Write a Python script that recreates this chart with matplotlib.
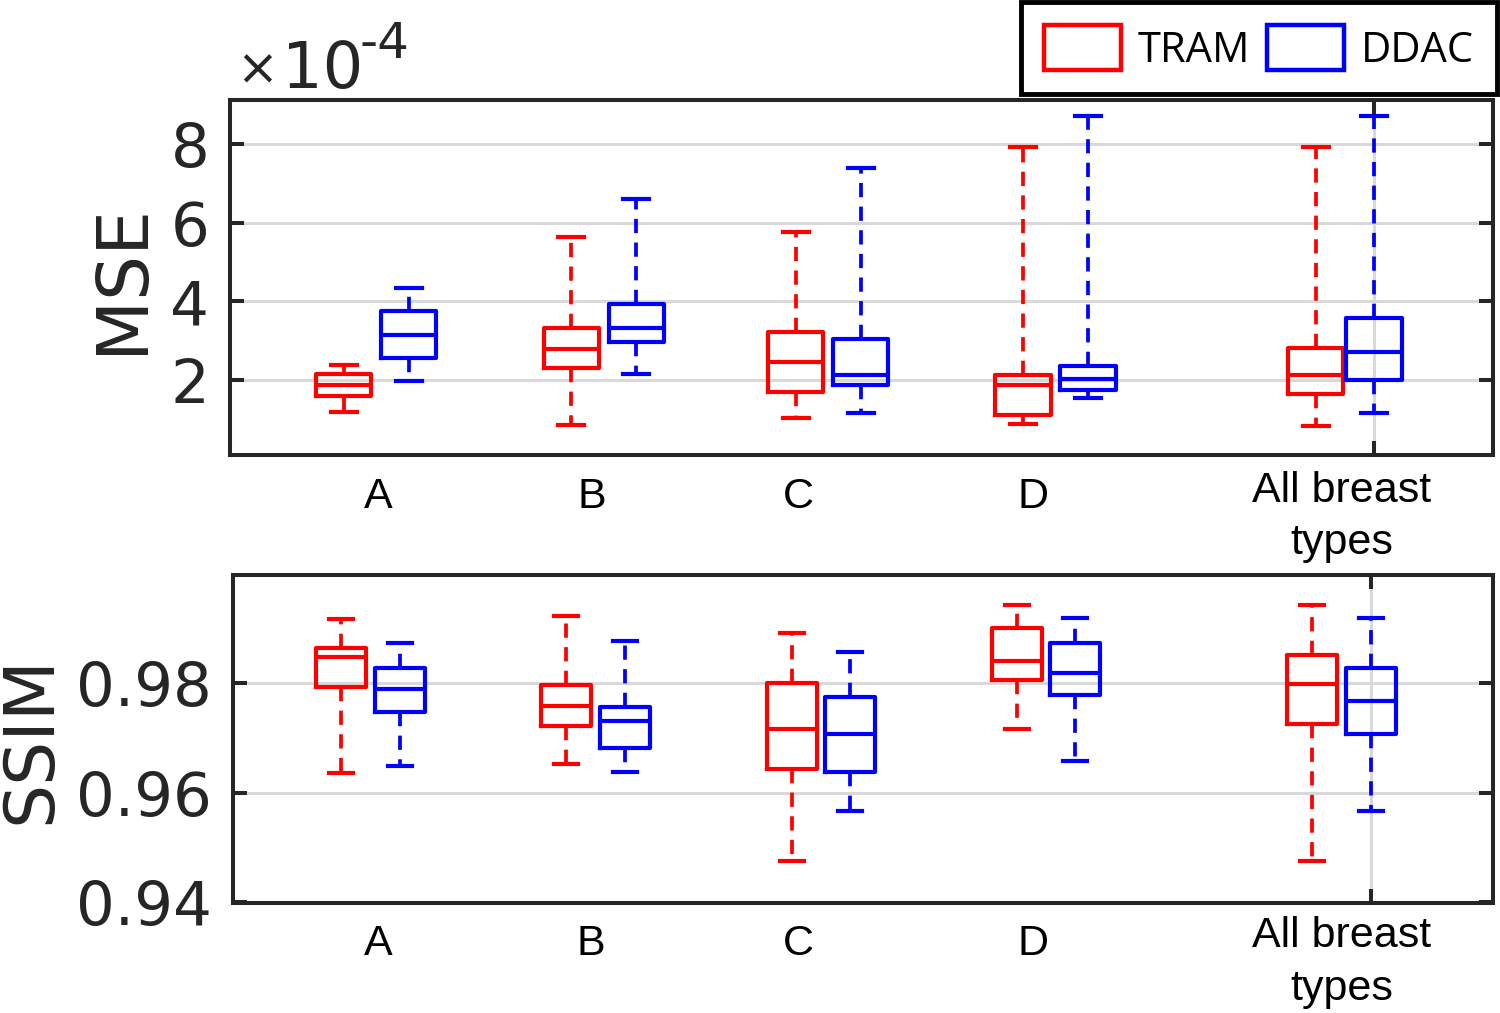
import matplotlib
matplotlib.use("Agg")
import matplotlib.pyplot as plt
from matplotlib.patches import Patch
from matplotlib import transforms

groups = ["A", "B", "C", "D", "All breast\ntypes"]

# MSE values, in units of 1e-4
mse_tram_lo = [1.18, 0.85, 1.02, 0.87, 0.83]
mse_tram_q1 = [1.58, 2.31, 1.69, 1.10, 1.64]
mse_tram_med = [1.86, 2.80, 2.46, 1.86, 2.13]
mse_tram_q3 = [2.16, 3.32, 3.23, 2.13, 2.82]
mse_tram_hi = [2.37, 5.65, 5.76, 7.93, 7.93]

mse_ddac_lo = [1.97, 2.15, 1.15, 1.55, 1.15]
mse_ddac_q1 = [2.55, 2.98, 1.86, 1.74, 2.00]
mse_ddac_med = [3.15, 3.32, 2.13, 2.02, 2.72]
mse_ddac_q3 = [3.76, 3.93, 3.05, 2.36, 3.59]
mse_ddac_hi = [4.34, 6.61, 7.39, 8.73, 8.73]

ssim_tram_lo = [0.9636, 0.9652, 0.9476, 0.9715, 0.9476]
ssim_tram_q1 = [0.9792, 0.9721, 0.9643, 0.9804, 0.9724]
ssim_tram_med = [0.9847, 0.9758, 0.9715, 0.9840, 0.9798]
ssim_tram_q3 = [0.9864, 0.9796, 0.9799, 0.9899, 0.9850]
ssim_tram_hi = [0.9916, 0.9921, 0.9891, 0.9941, 0.9941]

ssim_ddac_lo = [0.9649, 0.9638, 0.9567, 0.9657, 0.9567]
ssim_ddac_q1 = [0.9746, 0.9682, 0.9638, 0.9778, 0.9707]
ssim_ddac_med = [0.9789, 0.9730, 0.9707, 0.9818, 0.9767]
ssim_ddac_q3 = [0.9826, 0.9755, 0.9774, 0.9873, 0.9826]
ssim_ddac_hi = [0.9872, 0.9875, 0.9856, 0.9918, 0.9918]

mse_ticks = [2, 4, 6, 8]
ssim_ticks = [0.94, 0.96, 0.98]

# box positions (layout)
top_tram_pos = [1.75, 5.25, 8.7, 12.2, 16.7]
top_ddac_pos = [2.75, 6.25, 9.7, 13.2, 17.6]
top_label_pos = [2.28, 5.57, 8.75, 12.35, 17.1]
bot_tram_pos = [1.66, 5.12, 8.6, 12.06, 16.6]
bot_ddac_pos = [2.57, 6.03, 9.49, 12.95, 17.5]
bot_label_pos = [2.23, 5.5, 8.7, 12.3, 17.05]

RED = "#ff0000"
BLUE = "#0000ff"
DARK = "#262626"


def make_stats(lo, q1, med, q3, hi):
    return [dict(whislo=a, q1=b, med=c, q3=d, whishi=e, fliers=[])
            for a, b, c, d, e in zip(lo, q1, med, q3, hi)]


def draw_boxes(ax, stats, pos, color, width, capw):
    ax.bxp(stats, positions=pos, widths=width, showfliers=False,
           capwidths=capw, manage_ticks=False,
           boxprops=dict(color=color, lw=3),
           medianprops=dict(color=color, lw=3),
           whiskerprops=dict(color=color, lw=2.7, linestyle=(0, (3.8, 2.5))),
           capprops=dict(color=color, lw=3), zorder=3)


def style_axes(ax, xtick):
    for s in ax.spines.values():
        s.set_linewidth(2.9)
        s.set_color(DARK)
    ax.set_xticks([xtick])
    ax.set_xticklabels([])
    ax.tick_params(axis="both", direction="in", length=10, width=2.9,
                   colors=DARK, labelsize=44, pad=15,
                   left=True, right=True, top=True, bottom=True)
    ax.grid(True, color="#d9d9d9", lw=2.2, zorder=0)
    ax.set_axisbelow(True)
    for lab in ax.get_yticklabels():
        lab.set_fontfamily("DejaVu Sans")


fig = plt.figure(figsize=(15, 10.13), dpi=100)
ax1 = fig.add_axes([230 / 1500, 1 - 455 / 1013, 1263 / 1500, 355 / 1013])
ax2 = fig.add_axes([233 / 1500, 1 - 903 / 1013, 1260 / 1500, 328 / 1013])

draw_boxes(ax1, make_stats(mse_tram_lo, mse_tram_q1, mse_tram_med, mse_tram_q3, mse_tram_hi),
           top_tram_pos, RED, 0.85, 0.4)
draw_boxes(ax1, make_stats(mse_ddac_lo, mse_ddac_q1, mse_ddac_med, mse_ddac_q3, mse_ddac_hi),
           top_ddac_pos, BLUE, 0.85, 0.4)
ax1.set_xlim(0, 19.43)
ax1.set_ylim(0.09, 9.13)
ax1.set_yticks(mse_ticks)
style_axes(ax1, top_ddac_pos[-1])

draw_boxes(ax2, make_stats(ssim_tram_lo, ssim_tram_q1, ssim_tram_med, ssim_tram_q3, ssim_tram_hi),
           bot_tram_pos, RED, 0.77, 0.37)
draw_boxes(ax2, make_stats(ssim_ddac_lo, ssim_ddac_q1, ssim_ddac_med, ssim_ddac_q3, ssim_ddac_hi),
           bot_ddac_pos, BLUE, 0.77, 0.37)
ax2.set_xlim(0, 19.38)
ax2.set_ylim(0.9399, 0.9996)
ax2.set_yticks(ssim_ticks)
ax2.set_yticklabels(["0.94", "0.96", "0.98"])
style_axes(ax2, bot_ddac_pos[-1])

# group labels under each panel
for ax, lpos, y_short, y_long in [(ax1, top_label_pos, -0.062, -0.045),
                                  (ax2, bot_label_pos, -0.064, -0.040)]:
    tr = transforms.blended_transform_factory(ax.transData, ax.transAxes)
    for name, xp in zip(groups, lpos):
        yy = y_long if "\n" in name else y_short
        ax.text(xp, yy, name, transform=tr, ha="center", va="top",
                fontsize=31, family="Liberation Sans", color="black",
                linespacing=1.4)

# axis titles and exponent
fig.text(123 / 1500, 1 - 278 / 1013, "MSE", rotation=90, ha="center", va="center",
         fontsize=51, color=DARK, family="DejaVu Sans")
fig.text(31 / 1500, 1 - 740 / 1013, "SSIM", rotation=90, ha="center", va="center",
         fontsize=50, color=DARK, family="DejaVu Sans")
fig.text(236 / 1500, 1 - 85 / 1013, "\u00d7", ha="left", va="baseline",
         fontsize=36, color=DARK, family="DejaVu Sans")
fig.text(282 / 1500, 1 - 88 / 1013, "10", ha="left", va="baseline",
         fontsize=46, color=DARK, family="DejaVu Sans")
fig.text(360 / 1500, 1 - 58 / 1013, "-4", ha="left", va="baseline",
         fontsize=36, color=DARK, family="DejaVu Sans")

handles = [Patch(facecolor="white", edgecolor=RED, lw=3.2, label="TRAM"),
           Patch(facecolor="white", edgecolor=BLUE, lw=3.2, label="DDAC")]
leg = fig.legend(handles=handles, loc="upper right", ncol=2,
                 bbox_to_anchor=(1497 / 1500, 1 - 2 / 1013),
                 prop=dict(family="Open Sans", size=30),
                 handlelength=1.85, handleheight=1.3, handletextpad=0.4,
                 columnspacing=0.4, borderpad=0.55, borderaxespad=0,
                 fancybox=False, framealpha=1, edgecolor="black")
leg.get_frame().set_linewidth(3.5)

fig.savefig("out.png", dpi=100)
